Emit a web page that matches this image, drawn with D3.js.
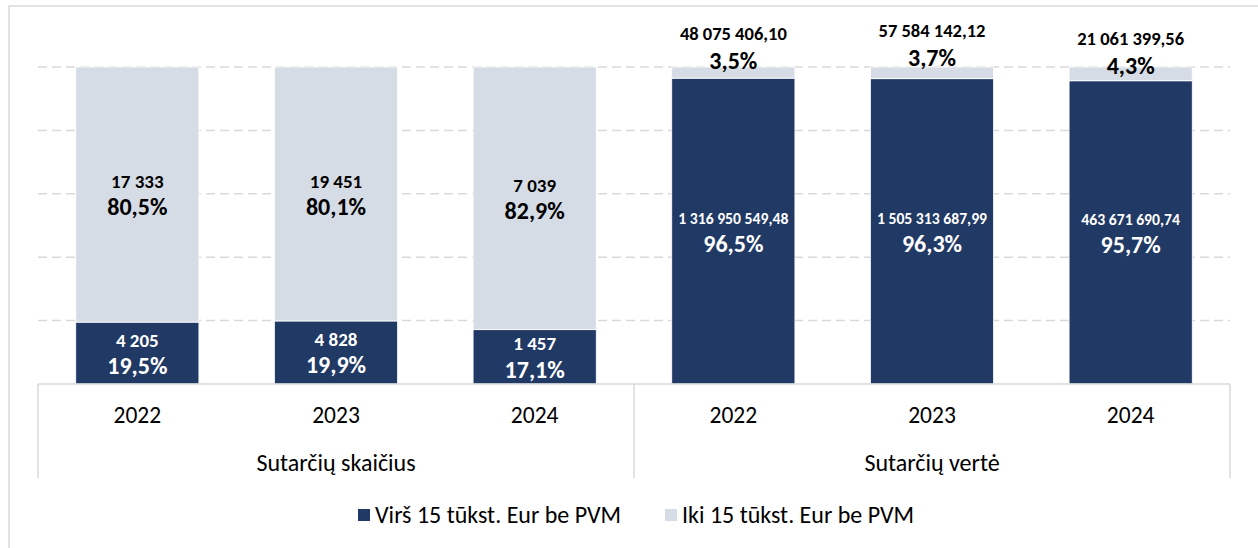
<!DOCTYPE html>
<html>
<head>
<meta charset="utf-8">
<script src="https://cdn.jsdelivr.net/npm/d3@7"></script>
<style>
  body { margin: 0; background: #fff; }
  svg { display: block; font-family: Carlito, Calibri, "Open Sans", sans-serif; }
  .grid line { stroke: #d9d9d9; stroke-width: 1.5; stroke-dasharray: 9 5; }
  .frame { fill: none; stroke: #d9d9d9; stroke-width: 1.5; }
  .box { stroke: #d9d9d9; stroke-width: 1.5; }
</style>
</head>
<body>
<svg id="chart" width="1258" height="548"></svg>
<script>
// data
var groups = ["Sutarčių skaičius", "Sutarčių vertė"];
var years = ["2022", "2023", "2024"];
var over15 = [4205, 4828, 1457, 1316950549.48, 1505313687.99, 463671690.74];
var under15 = [17333, 19451, 7039, 48075406.10, 57584142.12, 21061399.56];
var seriesNames = ["Virš 15 tūkst. Eur be PVM", "Iki 15 tūkst. Eur be PVM"];
var colors = ["#213965", "#d6dce5"];

var svg = d3.select("#chart"),
    margin = {top: 67, right: 28, bottom: 164, left: 38},
    width = +svg.attr("width") - margin.left - margin.right,
    height = +svg.attr("height") - margin.top - margin.bottom;

var lt = d3.formatLocale({decimal: ",", thousands: " ", grouping: [3], currency: ["", ""]});
var fmtInt = lt.format(",d"),
    fmtDec = lt.format(",.2f"),
    fmtPct = lt.format(".1%");

// build rows
var rows = [];
groups.forEach(function(g, gi) {
  years.forEach(function(y, yi) {
    var i = gi * 3 + yi;
    var total = over15[i] + under15[i];
    rows.push({key: g + "|" + y, group: g, year: y, gi: gi,
      over: over15[i], under: under15[i],
      pOver: over15[i] / total, pUnder: under15[i] / total});
  });
});

var x = d3.scaleBand().domain(rows.map(function(d) { return d.key; }))
    .range([0, width]).paddingInner(0.38).paddingOuter(0.19);
var y = d3.scaleLinear().domain([0, 1]).range([height, 0]);

// outer frame
svg.append("rect").attr("class", "frame")
  .attr("x", 9).attr("y", 6).attr("width", 1270).attr("height", 600);

var g = svg.append("g")
  .attr("transform", "translate(" + margin.left + "," + margin.top + ")");

// gridlines
g.append("g").attr("class", "grid")
  .selectAll("line").data(y.ticks(5).filter(function(t) { return t > 0; }))
  .enter().append("line")
    .attr("x1", 0).attr("x2", width)
    .attr("y1", function(d) { return y(d); })
    .attr("y2", function(d) { return y(d); });

// bars
var bar = g.selectAll(".bar").data(rows).enter().append("g").attr("class", "bar");

bar.append("rect")
  .attr("x", function(d) { return x(d.key); })
  .attr("width", x.bandwidth())
  .attr("y", function(d) { return y(d.pOver); })
  .attr("height", function(d) { return y(0) - y(d.pOver); })
  .attr("fill", colors[0]).attr("stroke", "#fff").attr("stroke-width", 0.8);

bar.append("rect")
  .attr("x", function(d) { return x(d.key); })
  .attr("width", x.bandwidth())
  .attr("y", y(1))
  .attr("height", function(d) { return y(d.pOver) - y(1); })
  .attr("fill", colors[1]).attr("stroke", "#fff").attr("stroke-width", 0.8);

function fmtVal(d, v) { return d.gi === 0 ? fmtInt(v) : fmtDec(v); }

// label nudges for the thin top segments (Excel moved these a bit)
var topNudge = [0, -3, 5];

bar.each(function(d, i) {
  var sel = d3.select(this),
      cx = x(d.key) + x.bandwidth() / 2,
      mid = (y(0) + y(d.pOver)) / 2;
  // dark (over) segment
  sel.append("text").attr("x", cx).attr("y", mid - 13).attr("dy", "0.35em")
    .attr("text-anchor", "middle").attr("fill", "#fff")
    .style("font-size", d.gi === 0 ? "19px" : "15.7px").style("font-weight", "bold")
    .text(fmtVal(d, d.over));
  sel.append("text").attr("x", cx).attr("y", mid + 12.5).attr("dy", "0.35em")
    .attr("text-anchor", "middle").attr("fill", "#fff")
    .style("font-size", "24px").style("font-weight", "bold")
    .text(fmtPct(d.pOver));

  // light (under) segment
  var midU, offV, offP;
  if (d.pUnder > 0.1) {
    midU = (y(d.pOver) + y(1)) / 2;
    offV = midU - 13; offP = midU + 12.5;
  } else {
    var n = topNudge[i % 3];
    offV = y(1) - 33 + n; offP = y(1) - 6 + n;
  }
  sel.append("text").attr("x", cx).attr("y", offV).attr("dy", "0.35em")
    .attr("text-anchor", "middle").attr("fill", "#000")
    .style("font-size", d.gi === 0 ? "19px" : "18.5px").style("font-weight", "bold")
    .text(fmtVal(d, d.under));
  sel.append("text").attr("x", cx).attr("y", offP).attr("dy", "0.35em")
    .attr("text-anchor", "middle").attr("fill", "#000")
    .style("font-size", "24px").style("font-weight", "bold")
    .text(fmtPct(d.pUnder));
});

// category axis (two levels)
var boxH = 94;
var axis = g.append("g").attr("transform", "translate(0," + height + ")");
axis.append("line").attr("class", "box").attr("x1", 0).attr("x2", width);
var groupEdges = [0, x(rows[3].key) - x.step() * x.paddingInner() / 2, width];
axis.selectAll(".vl").data(groupEdges).enter().append("line").attr("class", "box")
  .attr("x1", function(d) { return d; }).attr("x2", function(d) { return d; })
  .attr("y1", 0).attr("y2", boxH);

axis.selectAll(".yr").data(rows).enter().append("text")
  .attr("x", function(d) { return x(d.key) + x.bandwidth() / 2; })
  .attr("y", 31).attr("dy", "0.35em").attr("text-anchor", "middle")
  .style("font-size", "23.5px").attr("fill", "#000")
  .text(function(d) { return d.year; });

axis.selectAll(".grp").data(groups).enter().append("text")
  .attr("x", function(d, i) { return (groupEdges[i] + groupEdges[i + 1]) / 2; })
  .attr("y", 79).attr("dy", "0.35em").attr("text-anchor", "middle")
  .style("font-size", "24px").attr("fill", "#000")
  .text(function(d) { return d; });

// legend
var legend = svg.append("g").attr("transform", "translate(0,515)");
var legX = [358, 665];
seriesNames.forEach(function(name, i) {
  legend.append("rect").attr("x", legX[i]).attr("y", -6).attr("width", 12).attr("height", 12)
    .attr("fill", colors[i]);
  legend.append("text").attr("x", legX[i] + 17).attr("y", 0).attr("dy", "0.35em")
    .style("font-size", "24px").attr("fill", "#000").text(name);
});
</script>
</body>
</html>
